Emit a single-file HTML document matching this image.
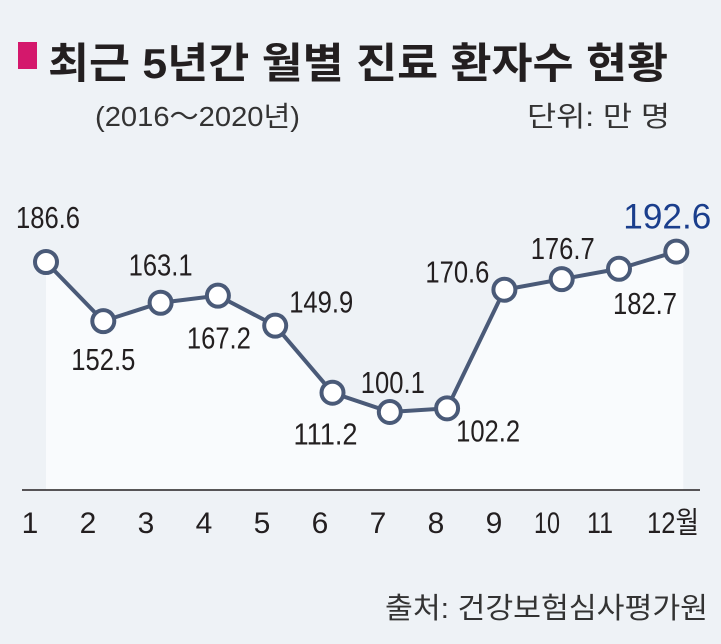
<!DOCTYPE html>
<html><head><meta charset="utf-8"><style>
body{margin:0;background:#eef2f6;}
svg{display:block;font-family:"Liberation Sans","Noto Sans CJK KR",sans-serif;}
</style></head><body>
<svg width="721" height="644" viewBox="0 0 721 644">
<rect width="721" height="644" fill="#eef2f6"/>
<rect x="18" y="42" width="19" height="27" fill="#d4186c"/>
<text x="48" y="78" font-size="42" font-weight="bold" fill="#231f20" textLength="620" lengthAdjust="spacingAndGlyphs">최근 5년간 월별 진료 환자수 현황</text>
<text x="95" y="126" font-size="28" fill="#333" textLength="205" lengthAdjust="spacingAndGlyphs">(2016～2020년)</text>
<text x="527" y="126" font-size="28" fill="#333" textLength="143" lengthAdjust="spacingAndGlyphs">단위: 만 명</text>
<g id="plot"></g>
<line x1="22" y1="490" x2="700" y2="490" stroke="#231f20" stroke-width="1.5"/>
<text x="385" y="618" font-size="29" fill="#333" textLength="323" lengthAdjust="spacingAndGlyphs">출처: 건강보험심사평가원</text>
</svg>
<script>
const months=["1","2","3","4","5","6","7","8","9","10","11","12월"];
const values=[186.6,152.5,163.1,167.2,149.9,111.2,100.1,102.2,170.6,176.7,182.7,192.6];
const labelDx=[2,0,0,1,46,-7,3,41,-47,1,26,-9];
const labelDy=[-34,49,-27,53,-13,52,-19,33,-7,-20,45,-23];
const tickX=[30,88,146,204,262,320,378,436,494,547,600,663];
const NS="http://www.w3.org/2000/svg";
const g=document.getElementById('plot');
const svg=document.querySelector('svg');
function xs(i){return 46+i*57.3;}
function ys(v){return 262+(186.6-v)*1.734;}
const base=490;
let pts=values.map((v,i)=>[xs(i),ys(v)]);
const area=document.createElementNS(NS,'path');
area.setAttribute('d','M'+pts[0][0]+','+base+' '+pts.map(p=>'L'+p[0]+','+p[1]).join(' ')+' L'+(pts[pts.length-1][0]+7)+','+pts[pts.length-1][1]+' L'+(pts[pts.length-1][0]+7)+','+base+'Z');
area.setAttribute('fill','#f9fbfd');


g.appendChild(area);
const line=document.createElementNS(NS,'polyline');
line.setAttribute('points',pts.map(p=>p.join(',')).join(' '));
line.setAttribute('fill','none');line.setAttribute('stroke','#4a5a78');line.setAttribute('stroke-width','4');


g.appendChild(line);
values.forEach((v,i)=>{
 const c=document.createElementNS(NS,'circle');
 c.setAttribute('cx',pts[i][0]);c.setAttribute('cy',pts[i][1]);c.setAttribute('r','11');
 c.setAttribute('fill','#fff');c.setAttribute('stroke','#4a5a78');c.setAttribute('stroke-width','4');
 
 
 g.appendChild(c);
 const t=document.createElementNS(NS,'text');
 const last=i===values.length-1;
 t.setAttribute('x',pts[i][0]+labelDx[i]);t.setAttribute('y',pts[i][1]+labelDy[i]);
 t.setAttribute('text-anchor','middle');
 t.setAttribute('font-size',last?'35':'31');
 t.setAttribute('textLength',last?'88':'64');
 t.setAttribute('lengthAdjust','spacingAndGlyphs');
 t.setAttribute('fill',last?'#1a3e8c':'#231f20');
 t.textContent=v.toFixed(1);
 
 
 g.appendChild(t);
});
months.forEach((m,i)=>{
 const t=document.createElementNS(NS,'text');
 t.setAttribute('x',tickX[i]);t.setAttribute('y',533);
 t.setAttribute('text-anchor',i===11?'start':'middle');
 if(i===11){t.setAttribute('x',tickX[i]-16);t.setAttribute('textLength','52');t.setAttribute('lengthAdjust','spacingAndGlyphs');}
 else if(m.length===2){t.setAttribute('textLength','26');t.setAttribute('lengthAdjust','spacingAndGlyphs');}
 t.setAttribute('font-size','30');t.setAttribute('fill','#231f20');
 t.textContent=m;
 
 
 svg.appendChild(t);
});
</script>
</body></html>
